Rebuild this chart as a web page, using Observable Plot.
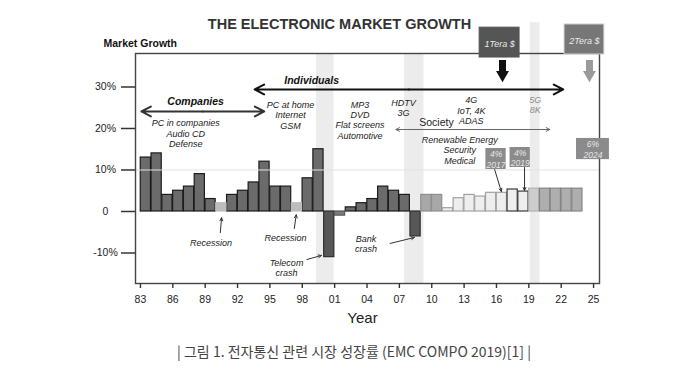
<!DOCTYPE html>
<html><head><meta charset="utf-8">
<script src="https://cdn.jsdelivr.net/npm/d3@7"></script>
<script src="https://cdn.jsdelivr.net/npm/@observablehq/plot@0.6"></script>
<style>
body{margin:0;background:#fff;font-family:"Liberation Sans",Arial,sans-serif;}
#chart{height:335px;}
#caption{font-family:"Noto Sans CJK KR",sans-serif;font-size:14px;color:#444;text-align:center;width:690px;padding-left:18px;box-sizing:border-box;line-height:20px;margin-top:6px;}
</style></head><body>
<div id="chart"></div>
<div id="caption">| 그림 1. 전자통신 관련 시장 성장률 (EMC COMPO 2019)[1] |</div>
<script>
// ---- data ----
const years = [1984,1985,1986,1987,1988,1989,1990,1991,1992,1993,1994,1995,1996,1997,1998,1999,2000,
  2001,2002,2003,2004,2005,2006,2007,2008,2009,2010,2011,2012,2013,2014,2015,2016,2017,2018,2019,
  2020,2021,2022,2023,2024];
const growth = [13,14,4,5,6,9,3,2,4,5,7,12,6,6,2,8,15,
  -11,-1,1,2,3,6,5,4,-6,4,4,0.8,3.2,4,3.6,4.5,4.5,5.3,4.8,
  5.5,5.5,5.5,5.5,5.5];
const phase = ["boom","boom","boom","boom","boom","boom","boom","recession","boom","boom","boom","boom","boom","boom","recession","boom","boom",
  "crash","dip","boom","boom","boom","boom","boom","boom","crash","recovery","recovery","forecast","forecast","forecast","forecast","forecast","forecast","milestone","milestone",
  "fiveG","projection","projection","projection","projection"];
const xTicks = [1983,1986,1989,1992,1995,1998,2001,2004,2007,2010,2013,2016,2019,2022,2025];
const yTicks = [-10,0,10,20,30];
const yTickLabels = ["-10%","0","10%","20%","30%"];

// ---- annotations (data units) ----
const bands = [
  {t1:1999.32, t2:2000.94},
  {t1:2007.48, t2:2009.28},
  {t1:2019.14, t2:2020.04}
];
const notes = [
  {t:1987.2, v:18.8, text:"PC in companies\nAudio CD\nDefense"},
  {t:1996.9, v:23.25, text:"PC at home\nInternet\nGSM"},
  {t:2003.36, v:22.05, text:"MP3\nDVD\nFlat screens\nAutomotive"},
  {t:2007.39, v:25.06, text:"HDTV\n3G"},
  {t:2013.67, v:24.34, text:"4G\nIoT, 4K\nADAS"},
  {t:2012.6, v:14.8, text:"Renewable Energy\nSecurity\nMedical"},
  {t:1989.55, v:-7.4, text:"Recession"},
  {t:1996.45, v:-6.3, text:"Recession"},
  {t:1996.54, v:-13.5, text:"Telecom\ncrash"},
  {t:2003.9, v:-7.83, text:"Bank\ncrash"}
];
const groups = [
  {t:1988.11, v:26.5, text:"Companies"},
  {t:1998.87, v:31.6, text:"Individuals"}
];
const spans = [
  {name:"Individuals", t1:1993.58, t2:2022.19, v:29.4},
  {name:"Companies", t1:1983.09, t2:1994.48, v:24.1},
  {name:"Society", t1:2006.68, t2:2020.94, v:19.76}
];
const pointers = [
  {t1:1990.4, v1:-5.1, t2:1990.52, v2:-1.5},
  {t1:1997.26, v1:-4.1, t2:1997.44, v2:-0.8},
  {t1:1998.43, v1:-11.57, t2:1999.77, v2:-10.6},
  {t1:2006.14, v1:-7.7, t2:2008.38, v2:-6.27},
  {t1:2015.83, v1:10.12, t2:2016.45, v2:4.82},
  {t1:2018.6, v1:10.6, t2:2018.6, v2:5.06}
];
const valueBoxes = [
  {t1:2015.02, t2:2016.9, v1:10.12, v2:15.18, pct:"4%", yr:"2017"},
  {t1:2017.26, t2:2019.14, v1:10.6, v2:15.42, pct:"4%", yr:"2019"},
  {t1:2023.42, t2:2026.47, v1:12.5, v2:17.6, pct:"6%", yr:"2024"}
];
const teraBoxes = [
  {t1:2014.44, t2:2018.14, v1:37.1, v2:44.3, label:"1Tera $", at:2016.56, fill:"#555", stroke:"#555", arrow:"#111"},
  {t1:2022.31, t2:2026.0, v1:37.83, v2:45.06, label:"2Tera $", at:2024.62, fill:"#777", stroke:"#cfcfcf", arrow:"#9a9a9a"}
];

const data = years.map((year, i) => ({year, growth: growth[i], phase: phase[i]}));

const barStyle = {
  boom:{fill:"#6b6b6b", stroke:"#1c1c1c"},
  recession:{fill:"#bdbdbd", stroke:"#bdbdbd"},
  crash:{fill:"#575757", stroke:"#2e2e2e"},
  dip:{fill:"#7c7c7c", stroke:"#5a5a5a"},
  recovery:{fill:"#a8a8a8", stroke:"#8f8f8f"},
  forecast:{fill:"#eeeeee", stroke:"#a2a2a2"},
  milestone:{fill:"#eeeeee", stroke:"#3a3a3a"},
  fiveG:{fill:"#cdcdcd", stroke:"#b0b0b0"},
  projection:{fill:"#aeaeae", stroke:"#858585"}
};

const yDomain = [-17.35, 38.07];
const italic = {fontStyle:"italic", fontSize:9, lineHeight:1.15, fill:"#222", lineAnchor:"middle"};

const marks = [
  Plot.rect(bands.slice(0,2), {x1:"t1", x2:"t2", fill:"#ececec"}),
  Plot.rect(bands.slice(2), {x1:"t1", x2:"t2", y1:d => yDomain[0], y2:d => 45.5, fill:"#ececec"}),
  ...Object.entries(barStyle).map(([ph, s]) =>
    Plot.rect(data.filter(d => d.phase === ph), {
      x1:d => d.year - 1, x2:d => d.year, y1:d => 0, y2:"growth",
      fill:s.fill, stroke:s.stroke, strokeWidth:1.2, insetLeft:0.3, insetRight:0.3
    })),
  Plot.ruleY([10], {stroke:"#e2e2e2", strokeWidth:1}),
  Plot.frame({stroke:"#444", strokeWidth:1.4}),
  // text annotations
  Plot.text(notes, {x:"t", y:"v", text:"text", ...italic}),
  Plot.text(["5G\n8K"], {x:d => 2019.6, y:d => 25.8, ...italic, fill:"#8a8a8a"}),
  Plot.text(groups, {x:"t", y:"v", text:"text", fontStyle:"italic", fontWeight:"bold", fontSize:10.5, fill:"#111"}),
  Plot.text(["Society"], {x:d => 2010.44, y:d => 21.45, fontSize:10.5, fill:"#222"}),
  // double arrows
  ...spans.flatMap(s => {
    const st = s.name === "Society" ? {stroke:"#666", strokeWidth:1, headLength:6} :
               s.name === "Companies" ? {stroke:"#333", strokeWidth:2, headLength:8} :
               {stroke:"#111", strokeWidth:2, headLength:8};
    const mid = (s.t1 + s.t2) / 2;
    return [
      Plot.arrow([s], {x1:d => mid, x2:"t1", y1:"v", y2:"v", headAngle:55, ...st}),
      Plot.arrow([s], {x1:d => mid, x2:"t2", y1:"v", y2:"v", headAngle:55, ...st})
    ];
  }),
  Plot.arrow(pointers, {x1:"t1", y1:"v1", x2:"t2", y2:"v2", stroke:"#333", strokeWidth:1, headLength:5, headAngle:50}),
  // value boxes
  Plot.rect(valueBoxes, {x1:"t1", x2:"t2", y1:"v1", y2:"v2", fill:"#8b8b8b"}),
  Plot.text(valueBoxes, {x:d => (d.t1 + d.t2) / 2, y:d => (d.v1 + d.v2) / 2, text:d => d.pct + "\n" + d.yr,
    fontStyle:"italic", fontSize:8.5, lineHeight:1.25, fill:"#e6e6e6", lineAnchor:"middle"}),
  // tera boxes and block arrows
  Plot.rect(teraBoxes, {x1:"t1", x2:"t2", y1:"v1", y2:"v2", fill:d => d.fill, stroke:d => d.stroke, strokeWidth:1}),
  Plot.text(teraBoxes, {x:d => (d.t1 + d.t2) / 2, y:d => (d.v1 + d.v2) / 2 - 0.4, text:"label",
    fontStyle:"italic", fontSize:9, fill:"#ececec"}),
  Plot.ruleX(teraBoxes, {x:"at", y1:d => 36.39, y2:d => 33.6, stroke:d => d.arrow, strokeWidth:7}),
  Plot.dot(teraBoxes, {x:"at", y:d => 32.95, symbol:"triangle", rotate:180, r:4.8, fill:d => d.arrow, stroke:"none"}),
  // axes
  Plot.axisY({ticks:yTicks, tickFormat:d => yTickLabels[yTicks.indexOf(d)], tickSize:14, tickPadding:16,
    textAnchor:"middle", fontSize:10.5, stroke:"#333", strokeWidth:1.5, fill:"#222", label:null}),
  Plot.axisX({ticks:xTicks, tickFormat:d => String(d).slice(2), tickSize:5, tickPadding:7,
    fontSize:10.5, stroke:"#333", strokeWidth:1.4, fill:"#222", label:null}),
  Plot.text(["Year"], {frameAnchor:"bottom", dx:-5, dy:35, fontSize:15, fill:"#222", lineAnchor:"middle"}),
  Plot.text(["THE ELECTRONIC MARKET GROWTH"], {frameAnchor:"top", dx:-28, dy:-29, fontSize:14.5, fontWeight:"bold", fill:"#333", lineAnchor:"middle"}),
  Plot.text(["Market Growth"], {frameAnchor:"top-left", dx:-32, dy:-10, textAnchor:"start", fontSize:10.5, fontWeight:"bold", fill:"#111", lineAnchor:"middle"})
];

const chart = Plot.plot({
  width:690, height:335,
  marginLeft:135, marginRight:91, marginTop:53, marginBottom:52,
  x:{domain:[1982.54, 2025.55]},
  y:{domain:yDomain},
  color:{type:"identity"},
  style:{fontFamily:"'Liberation Sans', Arial, sans-serif", fontSize:"10px", background:"white", color:"#222"},
  marks
});
document.getElementById("chart").appendChild(chart);
</script>
</body></html>
